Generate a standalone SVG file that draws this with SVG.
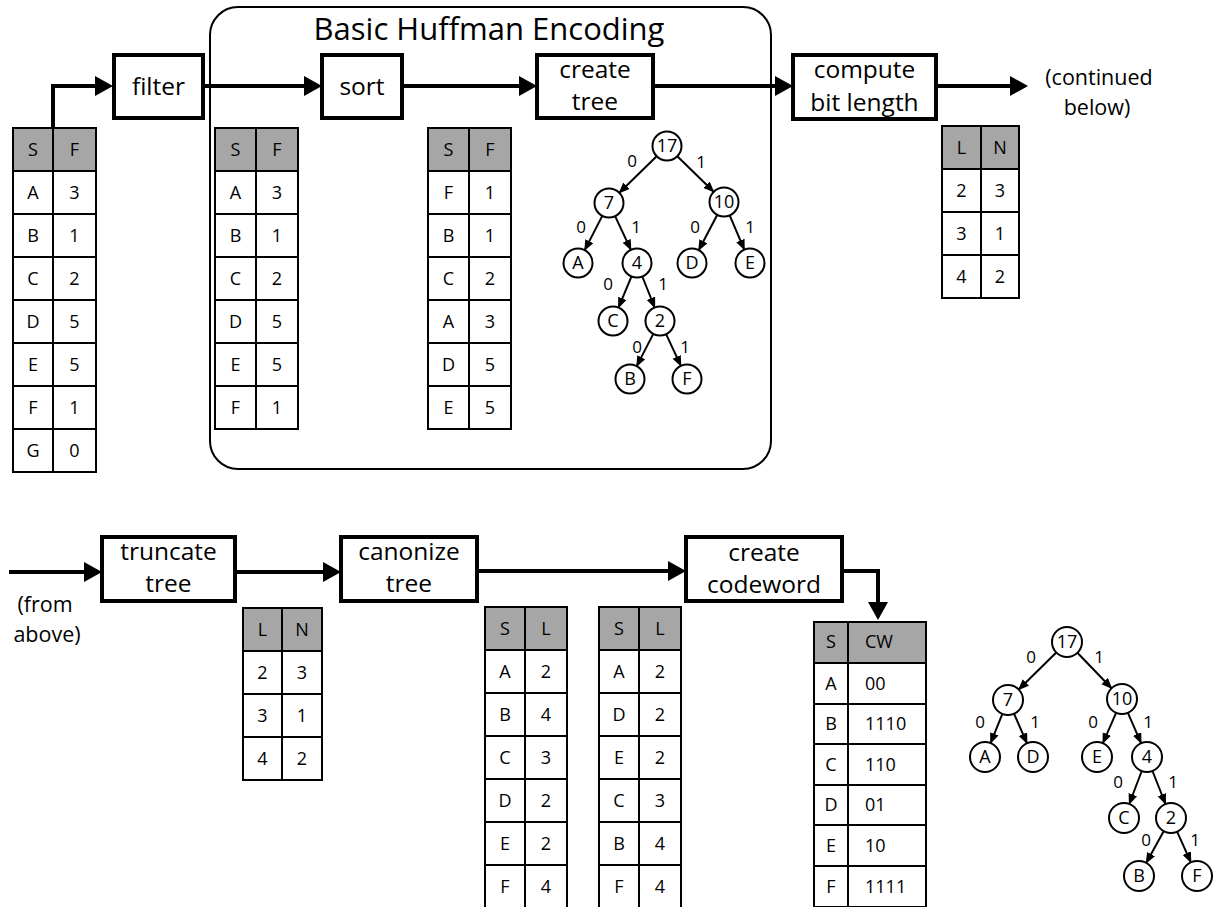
<svg xmlns="http://www.w3.org/2000/svg" width="1217" height="907" viewBox="0 0 1217 907">
<defs>
<style>
text{font-family:"Open Sans","Liberation Sans",sans-serif;fill:#000}
.box{fill:#fff;stroke:#000;stroke-width:4}
.lbl{font-size:24.5px;text-anchor:middle}
.note{font-size:21.5px;text-anchor:middle}
.hdr{fill:#a6a6a6;stroke:#000;stroke-width:2}
.body{fill:#fff;stroke:#000;stroke-width:2}
.grid{stroke:#000;stroke-width:2;fill:none}
.ct{font-size:18px;text-anchor:middle}
.cl{font-size:18px;text-anchor:start}
.flow{fill:none;stroke:#000;stroke-width:4}
.edge{fill:none;stroke:#000;stroke-width:2}
.node{fill:#fff;stroke:#000;stroke-width:2}
.nt{font-size:18px;text-anchor:middle}
.el{font-size:17px;text-anchor:middle}
</style>
<marker id="big" markerUnits="userSpaceOnUse" markerWidth="20" markerHeight="22" refX="4" refY="10" orient="auto">
<path d="M0,0 L18,10 L0,20 z" fill="#000"/>
</marker>
<marker id="sm" markerUnits="userSpaceOnUse" markerWidth="12" markerHeight="10" refX="10" refY="4.5" orient="auto">
<path d="M0,0 L11,4.5 L0,9 z" fill="#000"/>
</marker>
</defs>
<rect width="1217" height="907" fill="#fff"/>

<g id="huffman-group">
<rect x="210" y="7" width="561" height="462" rx="28" ry="28" fill="none" stroke="#000" stroke-width="2"/>
<text x="489" y="40" font-size="31" text-anchor="middle">Basic Huffman Encoding</text>
</g>

<g id="connectors">
<path class="flow" d="M53,128 V86 H99" marker-end="url(#big)"/>
<path class="flow" d="M203,86 H308" marker-end="url(#big)"/>
<path class="flow" d="M402,86 H523" marker-end="url(#big)"/>
<path class="flow" d="M653,86 H779" marker-end="url(#big)"/>
<path class="flow" d="M936,86 H1014" marker-end="url(#big)"/>
<path class="flow" d="M9,572 H88" marker-end="url(#big)"/>
<path class="flow" d="M235,572 H327" marker-end="url(#big)"/>
<path class="flow" d="M477,571 H672" marker-end="url(#big)"/>
<path class="flow" d="M842,571 H878 V606" marker-end="url(#big)"/>
</g>

<g id="node-filter"><rect class="box" x="114" y="55" width="89" height="63"/><text class="lbl" x="158.5" y="95">filter</text></g>
<g id="node-sort"><rect class="box" x="322" y="55" width="80" height="63"/><text class="lbl" x="362" y="95">sort</text></g>
<g id="node-create-tree"><rect class="box" x="537" y="55" width="116" height="63"/><text class="lbl" x="595" y="78">create</text><text class="lbl" x="595" y="110">tree</text></g>
<g id="node-compute"><rect class="box" x="793" y="55" width="143" height="64"/><text class="lbl" x="864.5" y="78">compute</text><text class="lbl" x="864.5" y="111">bit length</text></g>
<g id="note-continued"><text class="note" x="1099" y="85">(continued</text><text class="note" x="1097" y="115">below)</text></g>

<g id="node-truncate"><rect class="box" x="102" y="537" width="133" height="64"/><text class="lbl" x="168.5" y="560">truncate</text><text class="lbl" x="168.5" y="592">tree</text></g>
<g id="node-canonize"><rect class="box" x="341" y="537" width="136" height="64"/><text class="lbl" x="409" y="560">canonize</text><text class="lbl" x="409" y="592">tree</text></g>
<g id="node-codeword"><rect class="box" x="686" y="537" width="156" height="64"/><text class="lbl" x="764" y="561">create</text><text class="lbl" x="764" y="593">codeword</text></g>
<g id="note-from"><text class="note" x="45" y="612">(from</text><text class="note" x="47" y="642">above)</text></g>

<!-- Table 1 -->
<g id="table-input">
<rect class="hdr" x="13" y="128" width="83" height="43"/>
<rect class="body" x="13" y="171" width="83" height="301"/>
<path class="grid" d="M53,128V472 M13,214H96 M13,257H96 M13,300H96 M13,343H96 M13,386H96 M13,429H96"/>
<text class="ct" x="33" y="156">S</text><text class="ct" x="74.5" y="156">F</text>
<text class="ct" x="33" y="199">A</text><text class="ct" x="74.5" y="199">3</text>
<text class="ct" x="33" y="242">B</text><text class="ct" x="74.5" y="242">1</text>
<text class="ct" x="33" y="285">C</text><text class="ct" x="74.5" y="285">2</text>
<text class="ct" x="33" y="328">D</text><text class="ct" x="74.5" y="328">5</text>
<text class="ct" x="33" y="371">E</text><text class="ct" x="74.5" y="371">5</text>
<text class="ct" x="33" y="414">F</text><text class="ct" x="74.5" y="414">1</text>
<text class="ct" x="33" y="457">G</text><text class="ct" x="74.5" y="457">0</text>
</g>

<!-- Table 2 -->
<g id="table-filtered">
<rect class="hdr" x="215" y="128" width="83" height="43"/>
<rect class="body" x="215" y="171" width="83" height="258"/>
<path class="grid" d="M256,128V429 M215,214H298 M215,257H298 M215,300H298 M215,343H298 M215,386H298"/>
<text class="ct" x="235.5" y="156">S</text><text class="ct" x="277" y="156">F</text>
<text class="ct" x="235.5" y="199">A</text><text class="ct" x="277" y="199">3</text>
<text class="ct" x="235.5" y="242">B</text><text class="ct" x="277" y="242">1</text>
<text class="ct" x="235.5" y="285">C</text><text class="ct" x="277" y="285">2</text>
<text class="ct" x="235.5" y="328">D</text><text class="ct" x="277" y="328">5</text>
<text class="ct" x="235.5" y="371">E</text><text class="ct" x="277" y="371">5</text>
<text class="ct" x="235.5" y="414">F</text><text class="ct" x="277" y="414">1</text>
</g>

<!-- Table 3 -->
<g id="table-sorted">
<rect class="hdr" x="428" y="128" width="83" height="43"/>
<rect class="body" x="428" y="171" width="83" height="258"/>
<path class="grid" d="M469,128V429 M428,214H511 M428,257H511 M428,300H511 M428,343H511 M428,386H511"/>
<text class="ct" x="448.5" y="156">S</text><text class="ct" x="490" y="156">F</text>
<text class="ct" x="448.5" y="199">F</text><text class="ct" x="490" y="199">1</text>
<text class="ct" x="448.5" y="242">B</text><text class="ct" x="490" y="242">1</text>
<text class="ct" x="448.5" y="285">C</text><text class="ct" x="490" y="285">2</text>
<text class="ct" x="448.5" y="328">A</text><text class="ct" x="490" y="328">3</text>
<text class="ct" x="448.5" y="371">D</text><text class="ct" x="490" y="371">5</text>
<text class="ct" x="448.5" y="414">E</text><text class="ct" x="490" y="414">5</text>
</g>

<!-- LN top -->
<g id="table-ln-top">
<rect class="hdr" x="942" y="126" width="77" height="43"/>
<rect class="body" x="942" y="169" width="77" height="129"/>
<path class="grid" d="M981,126V298 M942,212H1019 M942,255H1019"/>
<text class="ct" x="961.5" y="154">L</text><text class="ct" x="1000" y="154">N</text>
<text class="ct" x="961.5" y="197">2</text><text class="ct" x="1000" y="197">3</text>
<text class="ct" x="961.5" y="240">3</text><text class="ct" x="1000" y="240">1</text>
<text class="ct" x="961.5" y="283">4</text><text class="ct" x="1000" y="283">2</text>
</g>

<!-- LN bottom -->
<g id="table-ln-bottom">
<rect class="hdr" x="243" y="608" width="79" height="43"/>
<rect class="body" x="243" y="651" width="79" height="129"/>
<path class="grid" d="M282,608V780 M243,694H322 M243,737H322"/>
<text class="ct" x="262.5" y="636">L</text><text class="ct" x="302" y="636">N</text>
<text class="ct" x="262.5" y="679">2</text><text class="ct" x="302" y="679">3</text>
<text class="ct" x="262.5" y="722">3</text><text class="ct" x="302" y="722">1</text>
<text class="ct" x="262.5" y="765">4</text><text class="ct" x="302" y="765">2</text>
</g>

<!-- SL 1 -->
<g id="table-sl-1">
<rect class="hdr" x="485" y="607" width="82" height="43"/>
<rect class="body" x="485" y="650" width="82" height="259"/>
<path class="grid" d="M525,607V909 M485,693H567 M485,736H567 M485,779H567 M485,822H567 M485,865H567"/>
<text class="ct" x="505" y="635">S</text><text class="ct" x="546" y="635">L</text>
<text class="ct" x="505" y="678">A</text><text class="ct" x="546" y="678">2</text>
<text class="ct" x="505" y="721">B</text><text class="ct" x="546" y="721">4</text>
<text class="ct" x="505" y="764">C</text><text class="ct" x="546" y="764">3</text>
<text class="ct" x="505" y="807">D</text><text class="ct" x="546" y="807">2</text>
<text class="ct" x="505" y="850">E</text><text class="ct" x="546" y="850">2</text>
<text class="ct" x="505" y="893">F</text><text class="ct" x="546" y="893">4</text>
</g>

<!-- SL 2 -->
<g id="table-sl-2">
<rect class="hdr" x="599" y="607" width="82" height="43"/>
<rect class="body" x="599" y="650" width="82" height="259"/>
<path class="grid" d="M639,607V909 M599,693H681 M599,736H681 M599,779H681 M599,822H681 M599,865H681"/>
<text class="ct" x="619" y="635">S</text><text class="ct" x="660" y="635">L</text>
<text class="ct" x="619" y="678">A</text><text class="ct" x="660" y="678">2</text>
<text class="ct" x="619" y="721">D</text><text class="ct" x="660" y="721">2</text>
<text class="ct" x="619" y="764">E</text><text class="ct" x="660" y="764">2</text>
<text class="ct" x="619" y="807">C</text><text class="ct" x="660" y="807">3</text>
<text class="ct" x="619" y="850">B</text><text class="ct" x="660" y="850">4</text>
<text class="ct" x="619" y="893">F</text><text class="ct" x="660" y="893">4</text>
</g>

<!-- CW -->
<g id="table-cw">
<rect class="hdr" x="814" y="622" width="112" height="41"/>
<rect class="body" x="814" y="663" width="112" height="244"/>
<path class="grid" d="M848,622V907 M814,704H926 M814,744H926 M814,785H926 M814,825H926 M814,866H926"/>
<text class="ct" x="831" y="648">S</text><text class="cl" x="865" y="648">CW</text>
<text class="ct" x="831" y="690">A</text><text class="cl" x="865" y="690">00</text>
<text class="ct" x="831" y="730">B</text><text class="cl" x="865" y="730">1110</text>
<text class="ct" x="831" y="771">C</text><text class="cl" x="865" y="771">110</text>
<text class="ct" x="831" y="811">D</text><text class="cl" x="865" y="811">01</text>
<text class="ct" x="831" y="852">E</text><text class="cl" x="865" y="852">10</text>
<text class="ct" x="831" y="893">F</text><text class="cl" x="865" y="893">1111</text>
</g>

<!-- Top tree -->
<g id="tree-top-edges">
<path class="edge" d="M656.7,156.2L619.3,192.8" marker-end="url(#sm)"/>
<path class="edge" d="M677.3,156.2L713.7,191.8" marker-end="url(#sm)"/>
<path class="edge" d="M602.3,215.9L584.7,250.1" marker-end="url(#sm)"/>
<path class="edge" d="M615.1,216.1L630.9,249.9" marker-end="url(#sm)"/>
<path class="edge" d="M717.3,214.8L698.7,250.2" marker-end="url(#sm)"/>
<path class="edge" d="M729.7,215.3L744.3,249.7" marker-end="url(#sm)"/>
<path class="edge" d="M631.5,276.4L618.5,307.6" marker-end="url(#sm)"/>
<path class="edge" d="M642.3,276.5L654.7,307.5" marker-end="url(#sm)"/>
<path class="edge" d="M653.3,333.9L636.7,366.1" marker-end="url(#sm)"/>
<path class="edge" d="M666.1,334.1L680.9,365.9" marker-end="url(#sm)"/>
<text class="el" x="632" y="167">0</text><text class="el" x="701" y="168">1</text>
<text class="el" x="581" y="233">0</text><text class="el" x="636" y="233">1</text>
<text class="el" x="695" y="233">0</text><text class="el" x="750" y="233">1</text>
<text class="el" x="608" y="290">0</text><text class="el" x="663" y="290">1</text>
<text class="el" x="637" y="353">0</text><text class="el" x="685" y="353">1</text>
</g>
<g id="t1-n17"><circle class="node" cx="667" cy="146" r="14.5"/><text class="nt" x="667" y="152">17</text></g>
<g id="t1-n7"><circle class="node" cx="609" cy="203" r="14.5"/><text class="nt" x="609" y="209">7</text></g>
<g id="t1-n10"><circle class="node" cx="724" cy="202" r="14.5"/><text class="nt" x="724" y="208">10</text></g>
<g id="t1-A"><circle class="node" cx="578" cy="263" r="14.5"/><text class="nt" x="578" y="269">A</text></g>
<g id="t1-n4"><circle class="node" cx="637" cy="263" r="14.5"/><text class="nt" x="637" y="269">4</text></g>
<g id="t1-D"><circle class="node" cx="692" cy="263" r="14.5"/><text class="nt" x="692" y="269">D</text></g>
<g id="t1-E"><circle class="node" cx="750" cy="263" r="14.5"/><text class="nt" x="750" y="269">E</text></g>
<g id="t1-C"><circle class="node" cx="613" cy="321" r="14.5"/><text class="nt" x="613" y="327">C</text></g>
<g id="t1-n2"><circle class="node" cx="660" cy="321" r="14.5"/><text class="nt" x="660" y="327">2</text></g>
<g id="t1-B"><circle class="node" cx="630" cy="379" r="14.5"/><text class="nt" x="630" y="385">B</text></g>
<g id="t1-F"><circle class="node" cx="687" cy="379" r="14.5"/><text class="nt" x="687" y="385">F</text></g>

<!-- Bottom tree -->
<g id="tree-bottom-edges">
<path class="edge" d="M1056.3,652.5L1018.7,689.5" marker-end="url(#sm)"/>
<path class="edge" d="M1077.4,652.8L1111.6,688.2" marker-end="url(#sm)"/>
<path class="edge" d="M1002.4,713.9L990.6,743.1" marker-end="url(#sm)"/>
<path class="edge" d="M1014,713.7L1027,743.3" marker-end="url(#sm)"/>
<path class="edge" d="M1116.1,712.8L1102.9,743.2" marker-end="url(#sm)"/>
<path class="edge" d="M1127.9,712.8L1141.1,743.2" marker-end="url(#sm)"/>
<path class="edge" d="M1141.7,771L1129.3,804" marker-end="url(#sm)"/>
<path class="edge" d="M1152.5,771L1165.5,804" marker-end="url(#sm)"/>
<path class="edge" d="M1163.8,831.1L1146.2,862.9" marker-end="url(#sm)"/>
<path class="edge" d="M1177.1,831.7L1190.9,862.3" marker-end="url(#sm)"/>
<text class="el" x="1031" y="663">0</text><text class="el" x="1099" y="663">1</text>
<text class="el" x="980" y="728">0</text><text class="el" x="1035" y="728">1</text>
<text class="el" x="1093" y="728">0</text><text class="el" x="1148" y="728">1</text>
<text class="el" x="1118" y="788">0</text><text class="el" x="1173" y="788">1</text>
<text class="el" x="1146" y="846">0</text><text class="el" x="1195" y="846">1</text>
</g>
<g id="t2-n17"><circle class="node" cx="1067" cy="642" r="15"/><text class="nt" x="1067" y="648">17</text></g>
<g id="t2-n7"><circle class="node" cx="1008" cy="700" r="15"/><text class="nt" x="1008" y="706">7</text></g>
<g id="t2-n10"><circle class="node" cx="1122" cy="699" r="15"/><text class="nt" x="1122" y="705">10</text></g>
<g id="t2-A"><circle class="node" cx="985" cy="757" r="15"/><text class="nt" x="985" y="763">A</text></g>
<g id="t2-D"><circle class="node" cx="1033" cy="757" r="15"/><text class="nt" x="1033" y="763">D</text></g>
<g id="t2-E"><circle class="node" cx="1097" cy="757" r="15"/><text class="nt" x="1097" y="763">E</text></g>
<g id="t2-n4"><circle class="node" cx="1147" cy="757" r="15"/><text class="nt" x="1147" y="763">4</text></g>
<g id="t2-C"><circle class="node" cx="1124" cy="818" r="15"/><text class="nt" x="1124" y="824">C</text></g>
<g id="t2-n2"><circle class="node" cx="1171" cy="818" r="15"/><text class="nt" x="1171" y="824">2</text></g>
<g id="t2-B"><circle class="node" cx="1139" cy="876" r="15"/><text class="nt" x="1139" y="882">B</text></g>
<g id="t2-F"><circle class="node" cx="1197" cy="876" r="15"/><text class="nt" x="1197" y="882">F</text></g>
</svg>
